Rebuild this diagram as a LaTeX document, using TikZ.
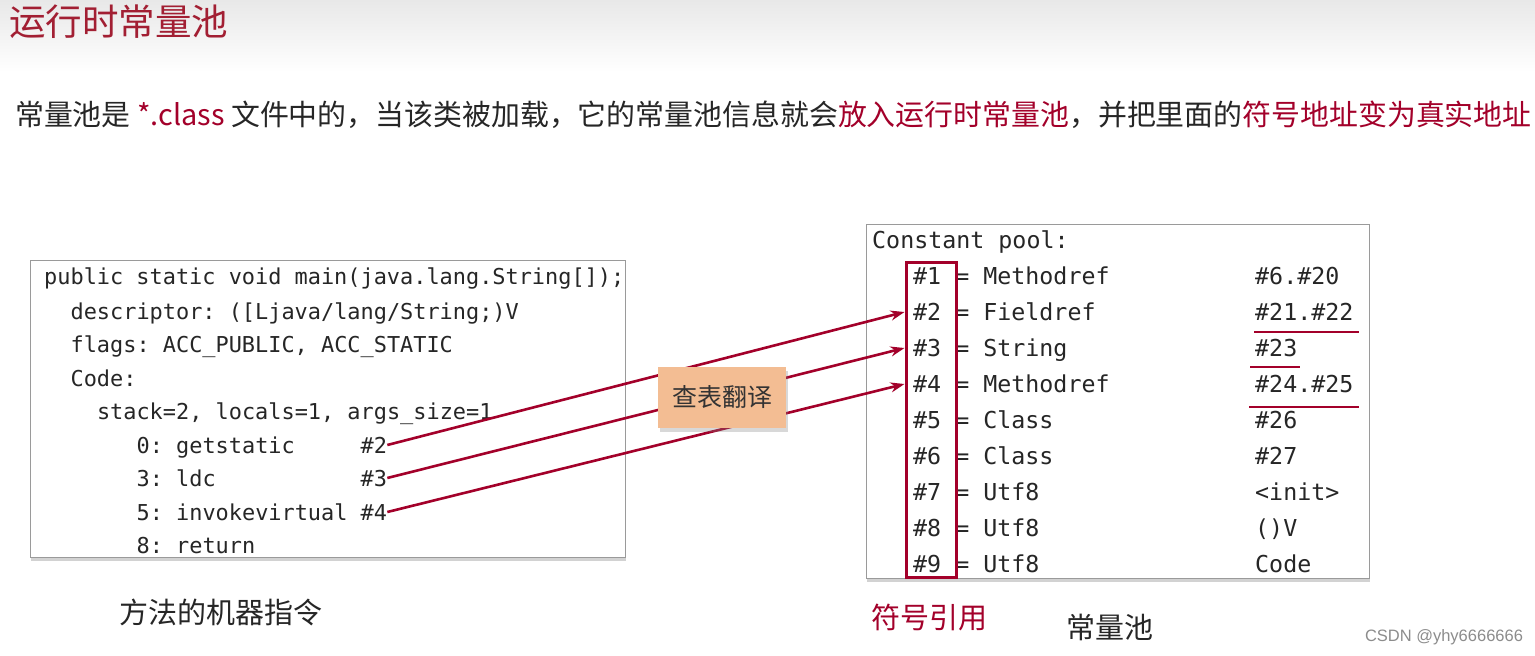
\documentclass[tikz,border=0pt]{standalone}
\usepackage{fontspec}
\setmainfont{Noto Sans CJK SC}
\setmonofont{DejaVu Sans Mono}
\newfontfamily\wmfont{Liberation Sans}
\usetikzlibrary{arrows.meta,shadows}
\definecolor{dred}{HTML}{A3002A}
\definecolor{ttl}{HTML}{A21F33}
\definecolor{txt}{HTML}{262626}
\definecolor{peach}{HTML}{F3BD93}
\definecolor{boxline}{HTML}{9A9A9A}
\begin{document}
\begin{tikzpicture}[x=1pt,y=-1pt,
  code/.style={anchor=west,inner sep=0pt,font=\ttfamily\fontsize{21.9}{24}\selectfont,text=txt,text height=16pt,text depth=5pt},
  pool/.style={anchor=west,inner sep=0pt,font=\ttfamily\fontsize{23.3}{26}\selectfont,text=txt,text height=17pt,text depth=6pt},
  panel/.style={draw=boxline,line width=1pt,fill=white,inner sep=0pt,drop shadow={shadow xshift=1pt,shadow yshift=-4pt,opacity=0.35}},
  arr/.style={dred,line width=2.6pt,-{Stealth[length=14pt,width=10pt]}},
  uline/.style={dred,line width=2.6pt},
  captext/.style={inner sep=0pt,font=\fontsize{29}{32}\selectfont,text=txt}
]
\useasboundingbox (0,0) rectangle (1535,656);
\fill[white] (0,0) rectangle (1535,656);
\shade[top color=black!9,bottom color=white] (0,0) rectangle (1535,72);

% title and intro
\node[anchor=west,inner sep=0pt,font=\fontsize{36.5}{40}\selectfont,text=ttl] (title) at (9,22) {运行时常量池};
\node[anchor=west,inner sep=0pt,font=\fontsize{28.9}{32}\selectfont,text=txt] (intro) at (15,115)
  {常量池是 \textcolor{dred}{*.class} 文件中的，当该类被加载，它的常量池信息就会\textcolor{dred}{放入运行时常量池}，并把里面的\textcolor{dred}{符号地址变为真实地址}};

% left code panel
\node[panel,minimum width=595pt,minimum height=297pt] (codebox) at (327.5,408.5) {};
\node[code] (c1) at (44,279) {public static void main(java.lang.String[]);};
\node[code] (c2) at (70.4,314) {descriptor: ([Ljava/lang/String;)V};
\node[code] (c3) at (70.4,347) {flags: ACC\_PUBLIC, ACC\_STATIC};
\node[code] (c4) at (70.4,381) {Code:};
\node[code] (c5) at (96.8,414) {stack=2, locals=1, args\_size=1};
\node[code] (c6) at (136.4,448) {0: getstatic~~~~~\#2};
\node[code] (c7) at (136.4,481) {3: ldc~~~~~~~~~~~\#3};
\node[code] (c8) at (136.4,515) {5: invokevirtual \#4};
\node[code] (c9) at (136.4,548) {8: return};

% right constant pool panel
\node[panel,minimum width=503pt,minimum height=354pt] (poolbox) at (1117.5,401) {};
\node[pool] (ph) at (872,243) {Constant pool:};
\node[pool] (p1) at (913,279) {\#1 = Methodref};
\node[pool] (p2) at (913,315) {\#2 = Fieldref};
\node[pool] (p3) at (913,351) {\#3 = String};
\node[pool] (p4) at (913,387) {\#4 = Methodref};
\node[pool] (p5) at (913,423) {\#5 = Class};
\node[pool] (p6) at (913,459) {\#6 = Class};
\node[pool] (p7) at (913,495) {\#7 = Utf8};
\node[pool] (p8) at (913,531) {\#8 = Utf8};
\node[pool] (p9) at (913,567) {\#9 = Utf8};
\node[pool] (v1) at (1255,279) {\#6.\#20};
\node[pool] (v2) at (1255,315) {\#21.\#22};
\node[pool] (v3) at (1255,351) {\#23};
\node[pool] (v4) at (1255,387) {\#24.\#25};
\node[pool] (v5) at (1255,423) {\#26};
\node[pool] (v6) at (1255,459) {\#27};
\node[pool] (v7) at (1255,495) {<init>};
\node[pool] (v8) at (1255,531) {()V};
\node[pool] (v9) at (1255,567) {Code};

% symbolic reference frame
\node[draw=dred,line width=3pt,minimum width=50pt,minimum height=315pt,inner sep=0pt] (symref) at (931,419.5) {};

% underlines
\draw[uline] (1254,332) -- (1359,332);
\draw[uline] (1250,367) -- (1300,367);
\draw[uline] (1249,407) -- (1359,407);

% arrows
\draw[arr] ([yshift=3pt]c6.east) -- ([yshift=3pt]symref.west |- p2);
\draw[arr] ([yshift=3pt]c7.east) -- ([yshift=3pt]symref.west |- p3);
\draw[arr] ([yshift=3pt]c8.east) -- ([yshift=3pt]symref.west |- p4);

% lookup label
\node[fill=peach,minimum width=128pt,minimum height=61pt,inner sep=0pt,
  drop shadow={shadow xshift=2pt,shadow yshift=-4pt,opacity=0.3},
  font=\fontsize{25}{28}\selectfont,text=black!80] (lookup) at (722,397.5) {查表翻译};

% captions
\node[captext] (capcode) at (221,612) {方法的机器指令};
\node[captext,text=dred] (capsym) at (929,618) {符号引用};
\node[captext] (cappool) at (1110,627) {常量池};
\node[inner sep=0pt,font=\wmfont\fontsize{16.5}{18}\selectfont,text=black!45] (wm) at (1444,637) {CSDN @yhy6666666};
\end{tikzpicture}
\end{document}
